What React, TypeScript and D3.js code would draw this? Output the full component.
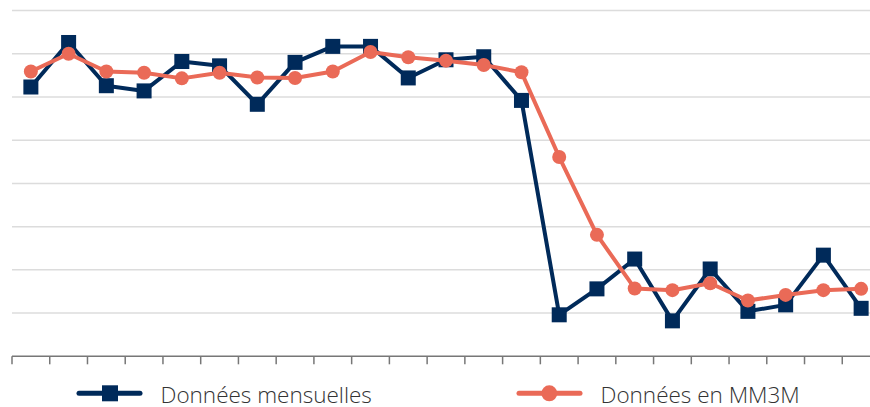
import React from "react";
import * as d3 from "d3";

const categories: string[] = d3.range(23).map((i) => `M${i + 1}`);
const monthly: number[] = [62.3, 72.6, 62.6, 61.4, 68.2, 67.2, 58.3, 68.0, 71.7, 71.7, 64.4, 68.6, 69.3, 59.2, 9.6, 15.6, 22.5, 8.2, 20.2, 10.4, 11.9, 23.4, 11.1];
const mm3m: number[] = [65.9, 70.0, 65.9, 65.6, 64.3, 65.6, 64.5, 64.4, 65.9, 70.4, 69.2, 68.4, 67.4, 65.7, 46.1, 28.1, 15.7, 15.3, 16.9, 12.9, 14.2, 15.3, 15.6];
const yTicks: number[] = [10, 20, 30, 40, 50, 60, 70, 80];
const seriesNames: string[] = ["Données mensuelles", "Données en MM3M"];

const W = 870;
const H = 407;
const NAVY = "#002a5a";
const ORANGE = "#ea6a57";

export default function App() {
  const x = d3.scaleBand<string>().domain(categories).range([12, 880]).paddingInner(0).paddingOuter(0);
  const y = d3.scaleLinear().domain([0, 80]).range([356.3, 10.5]);
  const cx = (i: number) => (x(categories[i]) as number) + x.bandwidth() / 2;
  const line = d3
    .line<number>()
    .x((_, i) => cx(i))
    .y((d) => y(d));
  const tickXs = [...categories.map((c) => x(c) as number), 880];
  const sq = 15;
  return (
    <svg width={W} height={H} style={{ position: "absolute", left: 0, top: 0, display: "block" }}>
      <rect width={W} height={H} fill="#fff" />
      {yTicks.map((t) => (
        <line key={t} x1={12} x2={880} y1={y(t)} y2={y(t)} stroke="#dcdcdc" strokeWidth={1.5} />
      ))}
      <line x1={12} x2={880} y1={y(0)} y2={y(0)} stroke="#777" strokeWidth={1.5} />
      {tickXs.map((tx, i) => (
        <line key={i} x1={tx} x2={tx} y1={y(0)} y2={y(0) + 8} stroke="#777" strokeWidth={1.5} />
      ))}
      <path d={line(monthly) || ""} fill="none" stroke={NAVY} strokeWidth={4} strokeLinejoin="round" />
      {monthly.map((v, i) => (
        <rect key={i} x={cx(i) - sq / 2} y={y(v) - sq / 2} width={sq} height={sq} fill={NAVY} />
      ))}
      <path d={line(mm3m) || ""} fill="none" stroke={ORANGE} strokeWidth={4} strokeLinejoin="round" />
      {mm3m.map((v, i) => (
        <circle key={i} cx={cx(i)} cy={y(v)} r={7} fill={ORANGE} />
      ))}
      <g>
        <line x1={79} x2={140} y1={393.3} y2={393.3} stroke={NAVY} strokeWidth={5} strokeLinecap="round" />
        <rect x={110 - 8} y={393.3 - 8} width={16} height={16} fill={NAVY} />
        <text x={160.5} y={403} fontFamily="'Open Sans', sans-serif" fontWeight={300} fontSize={22.5} fill="#333">
          {seriesNames[0]}
        </text>
        <line x1={519} x2={580} y1={393.3} y2={393.3} stroke={ORANGE} strokeWidth={5} strokeLinecap="round" />
        <circle cx={549.3} cy={393.3} r={8} fill={ORANGE} />
        <text x={600.5} y={403} fontFamily="'Open Sans', sans-serif" fontWeight={300} fontSize={22.5} fill="#333">
          {seriesNames[1]}
        </text>
      </g>
    </svg>
  );
}
